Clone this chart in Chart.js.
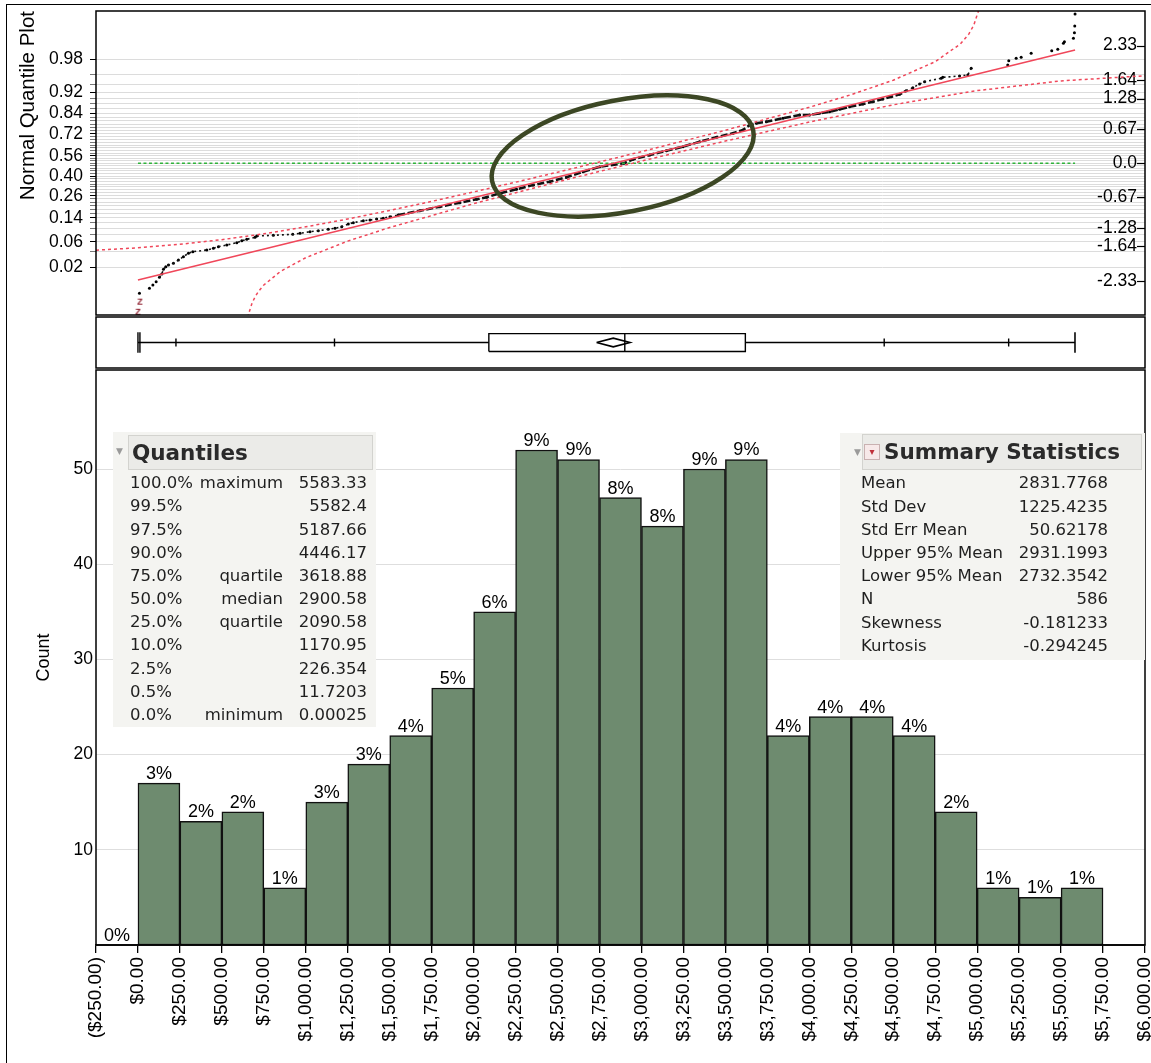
<!DOCTYPE html>
<html>
<head>
<meta charset="utf-8">
<title>Distribution</title>
<script src="https://cdn.jsdelivr.net/npm/chart.js@4.4.1/dist/chart.umd.min.js"></script>
<style>
  html, body { margin: 0; padding: 0; background: #fff; }
  #page { position: relative; width: 1151px; height: 1063px; overflow: hidden; background: #fff; }
  #page canvas { position: absolute; left: 0; }
  #outer { position: absolute; left: 6px; top: 4px; width: 1200px; height: 1100px; border-left: 1.5px solid #000; border-top: 1.5px solid #000; }
  .panel { position: absolute; background: #f4f4f1; font-family: "DejaVu Sans", sans-serif; color: #1f1f1f; filter: blur(0.3px); }
  .panel .head { position: absolute; background: #ebebe8; border: 1px solid #d3d3cf; box-sizing: border-box; }
  .panel .title { position: absolute; top: 0; font-weight: bold; font-size: 21.5px; line-height: 34px; color: #2a2a2a; white-space: nowrap; }
  .panel .cell { position: absolute; font-size: 16.5px; line-height: 20px; white-space: nowrap; }
  .panel .tri { position: absolute; font-size: 9px; line-height: 9px; color: #9a9a9a; }
  .panel .icon { position: absolute; width: 16px; height: 16px; border: 1px solid #c9b1b1; background: #f7e9e9; box-sizing: border-box; font-size: 10px; line-height: 14px; text-align: center; color: #c0303a; }
</style>
</head>
<body>
<div id="page">
  <canvas id="qq" width="1151" height="316" style="top:0"></canvas>
  <canvas id="box" width="1151" height="53" style="top:316px"></canvas>
  <canvas id="hist" width="1151" height="694" style="top:369px"></canvas>
  <div id="outer"></div>
  <div id="quantiles" class="panel" style="left:113px;top:432px;width:263px;height:295px"></div>
  <div id="summary" class="panel" style="left:840px;top:433px;width:305px;height:227px"></div>
</div>
<script>
// ---------- data ----------
// histogram bins (lower edges, width 250) and counts
const binStarts = [-250, 0, 250, 500, 750, 1000, 1250, 1500, 1750, 2000, 2250, 2500,
                   2750, 3000, 3250, 3500, 3750, 4000, 4250, 4500, 4750, 5000, 5250, 5500];
const binCounts = [0, 17, 13, 14, 6, 15, 19, 22, 27, 35, 52, 51,
                   47, 44, 50, 51, 22, 24, 24, 22, 14, 6, 5, 6];
const binWidth = 250;

const xTickValues = [-250, 0, 250, 500, 750, 1000, 1250, 1500, 1750, 2000, 2250, 2500, 2750,
                     3000, 3250, 3500, 3750, 4000, 4250, 4500, 4750, 5000, 5250, 5500, 5750, 6000];
const xTickLabels = ['($250.00)', '$0.00', '$250.00', '$500.00', '$750.00', '$1,000.00', '$1,250.00',
                     '$1,500.00', '$1,750.00', '$2,000.00', '$2,250.00', '$2,500.00', '$2,750.00',
                     '$3,000.00', '$3,250.00', '$3,500.00', '$3,750.00', '$4,000.00', '$4,250.00',
                     '$4,500.00', '$4,750.00', '$5,000.00', '$5,250.00', '$5,500.00', '$5,750.00', '$6,000.00'];
const countTicks = [10, 20, 30, 40, 50];

// quantiles table
const quantilePct = ['100.0%', '99.5%', '97.5%', '90.0%', '75.0%', '50.0%', '25.0%', '10.0%', '2.5%', '0.5%', '0.0%'];
const quantileNames = ['maximum', '', '', '', 'quartile', 'median', 'quartile', '', '', '', 'minimum'];
const quantileValues = [5583.33, 5582.4, 5187.66, 4446.17, 3618.88, 2900.58, 2090.58, 1170.95, 226.354, 11.7203, 0.00025];

// summary statistics
const statNames = ['Mean', 'Std Dev', 'Std Err Mean', 'Upper 95% Mean', 'Lower 95% Mean', 'N', 'Skewness', 'Kurtosis'];
const statValues = [2831.7768, 1225.4235, 50.62178, 2931.1993, 2732.3542, 586, -0.181233, -0.294245];

// normal quantile plot: sorted values against normal quantile
const qqValues = [8.9, 68.5, 88.7, 108.4, 128.0, 142.3, 151.8, 166.1, 181.6, 211.3, 241.1, 270.9, 300.7, 326.8,
  410.2, 449.5, 479.3, 529.3, 588.8, 618.6, 648.3, 697.7, 707.9,
  806.7, 922.2, 965.7, 1025.2, 1074.6, 1134.1, 1174.0, 1213.9, 1253.2, 1283.0, 1342.5, 1382.4, 1422.3, 1461.6, 1501.5, 1550.9,
  1680.1, 1799.2, 1918.2, 2017.6, 2077.2, 2156.4, 2255.8, 2354.6, 2454.0, 2553.4, 2652.3, 2751.7,
  2895.0,
  2950.0, 3049.0, 3148.8, 3247.6, 3347.0, 3446.5, 3545.3, 3604.9, 3644.7, 3684.6, 3744.1, 3843.0, 3942.4,
  4001.9, 4061.4, 4121.0, 4180.5, 4240.0, 4319.3, 4378.8, 4438.3, 4488.3, 4537.7, 4577.6, 4616.9, 4656.8, 4686.5, 4786.0, 4795.5, 4895.0, 4944.3, 4964.5,
  5182.4, 5188.4, 5232.5, 5262.3, 5321.8, 5444.4, 5480.2, 5514.0, 5520.0, 5573.6, 5579.5, 5581.4, 5583.33];
const qqZ = [-2.574, -2.475, -2.410, -2.345, -2.257, -2.192, -2.099, -2.048, -2.014, -1.980, -1.915, -1.849, -1.782, -1.750,
  -1.717, -1.683, -1.651, -1.618, -1.572, -1.533, -1.505, -1.465, -1.440,
  -1.426, -1.406, -1.386, -1.354, -1.335, -1.307, -1.287, -1.255, -1.202, -1.176, -1.137, -1.123, -1.103, -1.089, -1.057, -1.024,
  -0.939, -0.859, -0.780, -0.713, -0.673, -0.594, -0.515, -0.430, -0.364, -0.277, -0.166, -0.067,
  0.0,
  0.079, 0.164, 0.250, 0.329, 0.428, 0.515, 0.594, 0.659, 0.758, 0.792, 0.824, 0.891, 0.956,
  0.956, 0.990, 1.022, 1.069, 1.121, 1.174, 1.220, 1.273, 1.319, 1.366, 1.438, 1.497, 1.570, 1.616, 1.683, 1.703, 1.729, 1.749, 1.881,
  1.947, 2.032, 2.079, 2.099, 2.178, 2.230, 2.257, 2.376, 2.408, 2.475, 2.586, 2.719, 2.956];
// the two lowest observations, drawn with their own marker
const lowMarkValues = [0.00025, 11.7203];
const lowMarkZ = [-2.94, -2.74];

// confidence bands around the normal fit line
const bandUpperValues = [-250, 0, 250, 500, 750, 1000, 1250, 1500, 1750, 2000, 2250, 2500, 3000, 3500, 4000, 4250, 4500, 4750, 4900, 4950, 4980, 5005, 5010];
const bandUpperZ = [-1.720, -1.673, -1.604, -1.512, -1.396, -1.258, -1.103, -0.933, -0.754, -0.567, -0.374, -0.176, 0.231, 0.655, 1.110, 1.360, 1.645, 2.012, 2.364, 2.558, 2.736, 2.991, 3.075];
const bandLowerValues = [655, 660, 680, 700, 720, 750, 850, 1000, 1250, 1500, 2000, 2500, 3000, 3500, 4000, 4500, 5000, 5500, 6000];
const bandLowerZ = [-3.056, -2.976, -2.766, -2.632, -2.530, -2.410, -2.139, -1.869, -1.541, -1.271, -0.800, -0.367, 0.045, 0.441, 0.817, 1.158, 1.439, 1.632, 1.734];

// probability axis labels and normal-quantile axis labels
const probLabels = ['0.02', '0.06', '0.14', '0.26', '0.40', '0.56', '0.72', '0.84', '0.92', '0.98'];
const zTicks = [-2.33, -1.64, -1.28, -0.67, 0, 0.67, 1.28, 1.64, 2.33];

// ---------- helpers ----------
const FONT = '"Liberation Sans", Arial, Helvetica, sans-serif';
Chart.defaults.font.family = FONT;
Chart.defaults.color = '#000';

const xMin = -250, xMax = 6000;
const zMin = -3.004, zMax = 3.016;
const mean = statValues[0], sd = statValues[1], N = statValues[5];
const qMax = quantileValues[0], qMin = quantileValues[10];
const q = name => quantileValues[quantilePct.indexOf(name)];

// inverse standard normal CDF (Acklam)
function probit(p) {
  const a = [-3.969683028665376e+01, 2.209460984245205e+02, -2.759285104469687e+02, 1.383577518672690e+02, -3.066479806614716e+01, 2.506628277459239e+00];
  const b = [-5.447609879822406e+01, 1.615858368580409e+02, -1.556989798598866e+02, 6.680131188771972e+01, -1.328068155288572e+01];
  const c = [-7.784894002430293e-03, -3.223964580411365e-01, -2.400758277161838e+00, -2.549732539343734e+00, 4.374664141464968e+00, 2.938163982698783e+00];
  const d = [7.784695709041462e-03, 3.224671290700398e-01, 2.445134137142996e+00, 3.754408661907416e+00];
  const pl = 0.02425;
  let qq, r;
  if (p < pl) {
    qq = Math.sqrt(-2 * Math.log(p));
    return (((((c[0]*qq+c[1])*qq+c[2])*qq+c[3])*qq+c[4])*qq+c[5]) / ((((d[0]*qq+d[1])*qq+d[2])*qq+d[3])*qq+1);
  }
  if (p > 1 - pl) {
    qq = Math.sqrt(-2 * Math.log(1 - p));
    return -(((((c[0]*qq+c[1])*qq+c[2])*qq+c[3])*qq+c[4])*qq+c[5]) / ((((d[0]*qq+d[1])*qq+d[2])*qq+d[3])*qq+1);
  }
  qq = p - 0.5; r = qq * qq;
  return (((((a[0]*r+a[1])*r+a[2])*r+a[3])*r+a[4])*r+a[5])*qq / (((((b[0]*r+b[1])*r+b[2])*r+b[3])*r+b[4])*r+1);
}
const probGrid = Array.from({ length: 49 }, (_, i) => +(0.02 * (i + 1)).toFixed(2));

const pts = (xs, ys) => xs.map((v, i) => ({ x: v, y: ys[i] }));

// fixed axis sizes with no extra label padding, so every panel shares one plot width
const fixWidth = w => s => { s.width = w; s.paddingTop = 0; s.paddingBottom = 0; s.paddingLeft = 0; s.paddingRight = 0; };
const fixHeight = h => s => { s.height = h; s.paddingTop = 0; s.paddingBottom = 0; s.paddingLeft = 0; s.paddingRight = 0; };

// frame around each plot area
const framePlugin = {
  id: 'frame',
  afterDraw(chart) {
    const { ctx, chartArea: a } = chart;
    ctx.save();
    ctx.strokeStyle = '#000';
    ctx.lineWidth = 1.5;
    ctx.strokeRect(a.left, a.top, a.right - a.left, a.bottom - a.top);
    ctx.restore();
  }
};

// ---------- normal quantile plot ----------
const zMark = document.createElement('canvas');
zMark.width = 9; zMark.height = 10;
(() => {
  const g = zMark.getContext('2d');
  g.fillStyle = '#8e1f2e';
  g.font = 'bold 9px ' + FONT;
  g.textAlign = 'center';
  g.textBaseline = 'middle';
  g.fillText('Z', 4.5, 5.5);
})();

const ringPlugin = {
  id: 'ring',
  afterDatasetsDraw(chart) {
    const { ctx, scales: { x, y } } = chart;
    const cx = x.getPixelForValue(2888), cy = y.getPixelForValue(0.145);
    ctx.save();
    ctx.beginPath();
    ctx.ellipse(cx, cy, 133, 56, -10.9 * Math.PI / 180, 0, Math.PI * 2);
    ctx.lineWidth = 4.5;
    ctx.strokeStyle = '#3c4724';
    ctx.stroke();
    ctx.restore();
  }
};

const innerTickPlugin = {
  id: 'innerTicks',
  afterDraw(chart) {
    const { ctx, chartArea: a, scales: { y2 } } = chart;
    ctx.save();
    ctx.strokeStyle = '#000';
    ctx.lineWidth = 1.2;
    y2.ticks.forEach(t => {
      const y = Math.round(y2.getPixelForValue(t.value)) + 0.5;
      ctx.beginPath();
      ctx.moveTo(a.right - 8, y);
      ctx.lineTo(a.right, y);
      ctx.stroke();
    });
    ctx.restore();
  }
};

const fitLine = [{ x: qMin, y: (qMin - mean) / sd }, { x: qMax, y: (qMax - mean) / sd }];
const allPts = pts(qqValues, qqZ);

new Chart(document.getElementById('qq'), {
  type: 'scatter',
  data: {
    datasets: [
      { data: pts(bandUpperValues, bandUpperZ), showLine: true, borderColor: '#f0475a', borderWidth: 1.5, borderDash: [3, 3], pointRadius: 0 },
      { data: pts(bandLowerValues, bandLowerZ), showLine: true, borderColor: '#f0475a', borderWidth: 1.5, borderDash: [3, 3], pointRadius: 0 },
      { data: fitLine, showLine: true, borderColor: '#f0475a', borderWidth: 1.6, pointRadius: 0 },
      { data: [{ x: qMin, y: 0 }, { x: qMax, y: 0 }], showLine: true, borderColor: '#2fb23a', borderWidth: 1.5, borderDash: [3, 2.5], pointRadius: 0 },
      { data: allPts.slice(4, 39), showLine: true, borderColor: '#111', borderWidth: 1.6, borderDash: [2, 3], pointRadius: 0 },
      { data: allPts.slice(38, 76), showLine: true, borderColor: '#111', borderWidth: 2.6, borderDash: [7, 2.5], pointRadius: 0 },
      { data: allPts.slice(75, 84), showLine: true, borderColor: '#111', borderWidth: 1.6, borderDash: [2, 3], pointRadius: 0 },
      { data: allPts, showLine: false, pointRadius: 1.5, pointBackgroundColor: '#000', pointBorderWidth: 0 },
      { data: pts(lowMarkValues, lowMarkZ), showLine: false, pointStyle: zMark, pointRadius: 5 }
    ]
  },
  options: {
    responsive: false, animation: false, events: [],
    layout: { autoPadding: false, padding: { top: 11, bottom: 1, left: 0, right: 0 } },
    plugins: { legend: { display: false }, tooltip: { enabled: false } },
    scales: {
      x: { type: 'linear', display: false, min: xMin, max: xMax },
      y: {
        type: 'linear', position: 'left', min: zMin, max: zMax,
        afterBuildTicks: s => { s.ticks = probGrid.map(p => ({ value: probit(p) })); },
        afterFit: fixWidth(96),
        ticks: {
          autoSkip: false, color: '#000', padding: 7, font: { size: 17.5 },
          callback: (v, i) => { const t = probGrid[i].toFixed(2); return probLabels.includes(t) ? t : ''; }
        },
        grid: {
          color: '#dcdcdc', lineWidth: 1, drawTicks: true, tickLength: 6,
          tickColor: c => probLabels.includes(probGrid[c.index].toFixed(2)) ? '#000' : '#777'
        },
        border: { display: false },
        title: { display: true, text: 'Normal Quantile Plot', align: 'end', color: '#000', font: { size: 20.5 }, padding: { top: 16, bottom: 0 } }
      },
      y2: {
        type: 'linear', position: 'right', min: zMin, max: zMax,
        afterBuildTicks: s => { s.ticks = zTicks.map(z => ({ value: z })); },
        afterFit: fixWidth(6),
        ticks: { autoSkip: false, mirror: true, padding: -8, color: '#000', font: { size: 17.5 },
                 callback: v => v === 0 ? '0.0' : v.toFixed(2) },
        grid: { display: false },
        border: { display: false }
      }
    }
  },
  plugins: [framePlugin, ringPlugin, innerTickPlugin]
});

// ---------- quantile box plot ----------
const boxStyle = { showLine: true, borderColor: '#000', borderWidth: 1.4, pointRadius: 0, spanGaps: false };
const cap = (v, h) => [{ x: v, y: -h }, { x: v, y: h }, { x: v, y: null }];
const q1 = q('25.0%'), q3 = q('75.0%'), med = q('50.0%');
const lo95 = statValues[4], hi95 = statValues[3];

new Chart(document.getElementById('box'), {
  type: 'scatter',
  data: {
    datasets: [
      Object.assign({ data: [{ x: qMin, y: 0 }, { x: q1, y: 0 }, { x: q1, y: null }, { x: q3, y: 0 }, { x: qMax, y: 0 }] }, boxStyle),
      Object.assign({ data: [].concat(cap(qMin, 0.4), cap(q('0.5%'), 0.4), cap(q('99.5%'), 0.4), cap(qMax, 0.4)) }, boxStyle),
      Object.assign({ data: [].concat(cap(q('2.5%'), 0.16), cap(q('10.0%'), 0.16), cap(q('90.0%'), 0.16), cap(q('97.5%'), 0.16)) }, boxStyle),
      Object.assign({ data: [{ x: q1, y: -0.35 }, { x: q3, y: -0.35 }, { x: q3, y: 0.35 }, { x: q1, y: 0.35 }, { x: q1, y: -0.35 }] }, boxStyle),
      Object.assign({ data: cap(med, 0.35) }, boxStyle),
      Object.assign({ data: [{ x: lo95, y: 0 }, { x: mean, y: 0.17 }, { x: hi95, y: 0 }, { x: mean, y: -0.17 }, { x: lo95, y: 0 }] }, boxStyle, { borderWidth: 1.6 })
    ]
  },
  options: {
    responsive: false, animation: false, events: [],
    layout: { autoPadding: false, padding: { top: 1, bottom: 1, left: 96, right: 6 } },
    plugins: { legend: { display: false }, tooltip: { enabled: false } },
    scales: {
      x: { type: 'linear', display: false, min: xMin, max: xMax },
      y: { type: 'linear', display: false, min: -1, max: 1 }
    }
  },
  plugins: [framePlugin]
});

// ---------- histogram ----------
const pctLabelPlugin = {
  id: 'pctLabels',
  afterDatasetsDraw(chart) {
    const { ctx } = chart;
    const meta = chart.getDatasetMeta(0);
    ctx.save();
    ctx.fillStyle = '#000';
    ctx.font = '18px ' + FONT;
    ctx.textAlign = 'center';
    ctx.textBaseline = 'alphabetic';
    meta.data.forEach((bar, i) => {
      const pct = Math.round(binCounts[i] / N * 100) + '%';
      ctx.fillText(pct, bar.x, bar.y - 4);
    });
    ctx.restore();
  }
};

new Chart(document.getElementById('hist'), {
  type: 'bar',
  data: {
    datasets: [{
      data: binStarts.map((s, i) => ({ x: s + binWidth / 2, y: binCounts[i] })),
      backgroundColor: '#6e8b6f',
      borderColor: '#111',
      borderWidth: 1.5,
      borderSkipped: false,
      barPercentage: 1,
      categoryPercentage: 1
    }]
  },
  options: {
    responsive: false, animation: false, events: [],
    layout: { autoPadding: false, padding: { top: 1, bottom: 0, left: 0, right: 6 } },
    plugins: { legend: { display: false }, tooltip: { enabled: false } },
    scales: {
      x: {
        type: 'linear', min: xMin, max: xMax, offset: false,
        afterBuildTicks: s => { s.ticks = xTickValues.map(v => ({ value: v })); },
        afterFit: fixHeight(118),
        ticks: { autoSkip: false, minRotation: 90, maxRotation: 90, padding: 4, color: '#000', font: { size: 19 },
                 callback: (v, i) => xTickLabels[i] },
        grid: { offset: false, drawOnChartArea: false, drawTicks: true, tickLength: 8, color: '#000', lineWidth: 1.3 },
        border: { display: true, color: '#333', width: 2 }
      },
      y: {
        type: 'linear', min: 0, max: 60.4,
        afterBuildTicks: s => { s.ticks = countTicks.map(v => ({ value: v })); },
        afterFit: fixWidth(96),
        ticks: { padding: 3, color: '#000', font: { size: 17.5 } },
        grid: { color: '#dedede', drawTicks: false },
        border: { display: false },
        title: { display: true, text: 'Count', color: '#000', font: { size: 18 }, padding: { top: 33, bottom: 0 } }
      }
    }
  },
  plugins: [framePlugin, pctLabelPlugin]
});

// ---------- report tables ----------
function el(parent, cls, text, style) {
  const e = document.createElement('div');
  e.className = cls;
  if (text !== undefined) e.textContent = text;
  Object.assign(e.style, style || {});
  parent.appendChild(e);
  return e;
}

(function quantilesTable() {
  const p = document.getElementById('quantiles');
  el(p, 'tri', '\u25BC', { left: '3px', top: '15px' });
  const h = el(p, 'head', undefined, { left: '15px', top: '3px', width: '245px', height: '35px' });
  el(h, 'title', 'Quantiles', { left: '3px' });
  quantilePct.forEach((pct, i) => {
    const top = (51.3 + i * 23.17 - 10) + 'px';
    el(p, 'cell', pct, { left: '17px', top });
    if (quantileNames[i]) el(p, 'cell', quantileNames[i], { right: '93px', top });
    el(p, 'cell', String(quantileValues[i]), { right: '9px', top });
  });
})();

(function summaryTable() {
  const p = document.getElementById('summary');
  el(p, 'tri', '\u25BC', { left: '14px', top: '15px' });
  const h = el(p, 'head', undefined, { left: '22px', top: '1px', width: '280px', height: '36px' });
  el(h, 'icon', '\u25BE', { left: '1px', top: '9px' });
  el(h, 'title', 'Summary Statistics', { left: '21px' });
  statNames.forEach((name, i) => {
    const top = (50.3 + i * 23.2 - 10) + 'px';
    el(p, 'cell', name, { left: '21px', top });
    el(p, 'cell', String(statValues[i]), { right: '37px', top });
  });
})();
</script>
</body>
</html>
